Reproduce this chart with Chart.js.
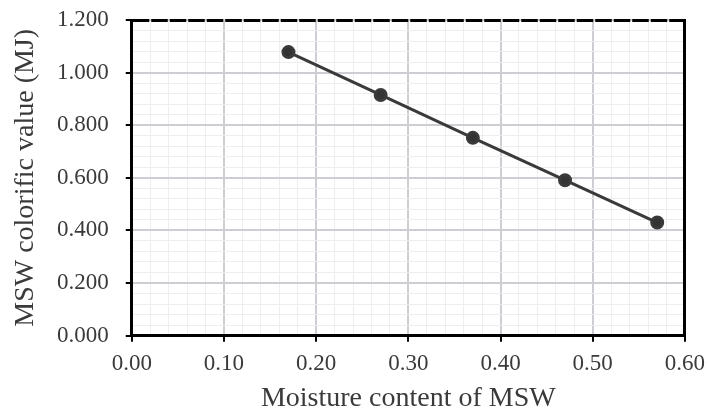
<!DOCTYPE html>
<html>
<head>
<meta charset="utf-8">
<script src="https://cdn.jsdelivr.net/npm/chart.js@4/dist/chart.umd.min.js"></script>
<style>
  html, body { margin: 0; padding: 0; background: #fff; }
  #wrap { width: 708px; height: 412px; }
</style>
</head>
<body>
<div id="wrap"><canvas id="myChart" width="708" height="412"></canvas></div>
<script>
'use strict';

// chart data
let moisture = [0.17, 0.27, 0.37, 0.47, 0.57];
let calorific = [1.078, 0.915, 0.752, 0.591, 0.430];
let xTitle = 'Moisture content of MSW';
let yTitle = 'MSW colorific value (MJ)';

// major / minor tick spacing
let xMajor = 0.1, xMinorStep = 0.02;
let yMajor = 0.2, yMinorStep = 0.04;

let points = moisture.map(function (m, i) {
  return { x: m, y: calorific[i] };
});

let serif = '"Liberation Serif", "Times New Roman", serif';
let textColor = '#3a3a3a';

function isMajor(v, step) {
  let r = v / step;
  return Math.abs(r - Math.round(r)) < 1e-6;
}

function gridStyle(step) {
  return {
    color: function (c) { return isMajor(c.tick.value, step) ? '#cdcdd3' : '#eeeeee'; },
    lineWidth: function (c) { return isMajor(c.tick.value, step) ? 2 : 1; },
    tickColor: function (c) { return isMajor(c.tick.value, step) ? '#000' : 'rgba(0,0,0,0)'; },
    tickLength: 6
  };
}

const ctx = document.getElementById('myChart').getContext('2d');

const myChart = new Chart(ctx, {
  type: 'scatter',
  data: {
    datasets: [{
      data: points,
      showLine: true,
      borderColor: '#3a3a3a',
      backgroundColor: '#333',
      borderWidth: 3,
      pointRadius: 5.5,
      pointHoverRadius: 5.5
    }]
  },
  options: {
    responsive: false,
    animation: false,
    layout: { padding: { top: 20, right: 16, left: 12, bottom: 0 } },
    plugins: { legend: { display: false }, tooltip: { enabled: false } },
    scales: {
      x: {
        type: 'linear', position: 'bottom', min: 0, max: 0.6,
        ticks: {
          stepSize: xMinorStep, autoSkip: false, maxRotation: 0, maxTicksLimit: 100,
          color: textColor, padding: 3,
          font: { family: serif, size: 23, lineHeight: 1.65 },
          callback: function (v) { return isMajor(v, xMajor) ? v.toFixed(2) : ''; }
        },
        grid: gridStyle(xMajor),
        border: { color: '#000', width: 3 },
        title: {
          display: true, text: xTitle, color: textColor,
          font: { family: serif, size: 28, lineHeight: 0.3 }, padding: { top: 9, bottom: 9 }
        }
      },
      y: {
        type: 'linear', position: 'left', min: 0, max: 1.2,
        ticks: {
          stepSize: yMinorStep, autoSkip: false, maxTicksLimit: 100,
          color: textColor, padding: 17,
          font: { family: serif, size: 23, lineHeight: 0.2 },
          callback: function (v) { return isMajor(v, yMajor) ? v.toFixed(3) : ''; }
        },
        grid: gridStyle(yMajor),
        border: { color: '#000', width: 3 },
        title: {
          display: true, text: yTitle, color: textColor,
          font: { family: serif, size: 28, lineHeight: 1 }, padding: { top: 0, bottom: 0 }
        }
      },
      // horizontal dashed frame line along the top of the plot
      yTop: {
        type: 'linear', position: 'right', min: 0, max: 1.2,
        afterBuildTicks: function (scale) {
          scale.ticks = [{ value: 1.2 }];
        },
        ticks: { display: false },
        grid: { color: '#000', lineWidth: 3, drawTicks: false },
        border: { color: '#000', width: 3, dash: [16.5, 2], dashOffset: -1 }
      }
    }
  }
});

console.log(myChart);
</script>
</body>
</html>
